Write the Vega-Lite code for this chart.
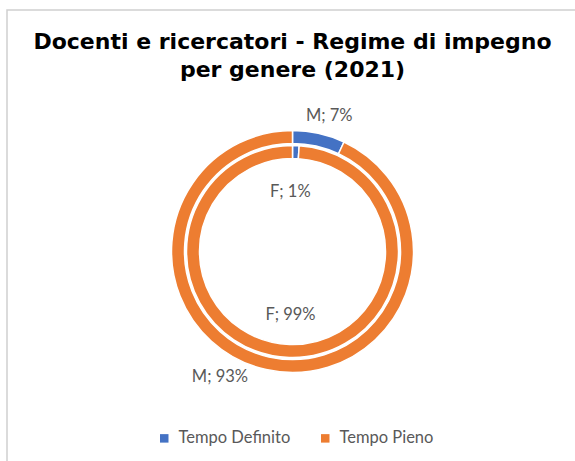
{
  "$schema": "https://vega.github.io/schema/vega-lite/v6.json",
  "width": 571,
  "height": 483,
  "autosize": {"type": "none"},
  "padding": {"left": 7, "top": 10, "right": 0, "bottom": 0},
  "background": "white",
  "view": {"stroke": "#d0d0d0", "strokeWidth": 1.5},
  "title": {
    "text": ["Docenti e ricercatori - Regime di impegno", "per genere (2021)"],
    "font": "DejaVu Sans",
    "fontSize": 22,
    "fontWeight": "bold",
    "color": "#000000",
    "lineHeight": 28,
    "anchor": "middle",
    "offset": -72
  },
  "data": {
    "values": [
      {"genere": "M", "regime": "Tempo Definito", "percentuale": 7, "etichetta": "M; 7%"},
      {"genere": "M", "regime": "Tempo Pieno", "percentuale": 93, "etichetta": "M; 93%"},
      {"genere": "F", "regime": "Tempo Definito", "percentuale": 1, "etichetta": "F; 1%"},
      {"genere": "F", "regime": "Tempo Pieno", "percentuale": 99, "etichetta": "F; 99%"}
    ]
  },
  "layer": [
    {
      "transform": [{"filter": "datum.genere === 'M'"}],
      "mark": {"type": "arc", "radius": 121, "radius2": 108, "stroke": "white", "strokeWidth": 1.5},
      "encoding": {
        "theta": {"field": "percentuale", "type": "quantitative", "stack": true, "scale": {"domain": [0, 100]}},
        "order": {"field": "regime"},
        "color": {
          "field": "regime",
          "type": "nominal",
          "scale": {"domain": ["Tempo Definito", "Tempo Pieno"], "range": ["#4472C4", "#ED7D31"]},
          "legend": {
            "title": null,
            "orient": "none",
            "direction": "horizontal",
            "legendX": 149,
            "legendY": 420,
            "symbolType": "square",
            "symbolSize": 72,
            "symbolStrokeWidth": 0,
            "labelFont": "Lato",
            "labelFontSize": 16.5,
            "labelColor": "#595959",
            "labelOffset": 6,
            "columnPadding": 26,
            "padding": 0
          }
        }
      }
    },
    {
      "transform": [{"filter": "datum.genere === 'F'"}],
      "mark": {"type": "arc", "radius": 106, "radius2": 93, "stroke": "white", "strokeWidth": 1.5},
      "encoding": {
        "theta": {"field": "percentuale", "type": "quantitative", "stack": true},
        "order": {"field": "regime"},
        "color": {"field": "regime", "type": "nominal"}
      }
    },
    {
      "transform": [{"filter": "datum.genere === 'M'"}],
      "mark": {"type": "text", "radius": 141, "dx": 6, "dy": 2, "font": "Lato", "fontSize": 16.5, "color": "#595959"},
      "encoding": {
        "theta": {"field": "percentuale", "type": "quantitative", "stack": true},
        "detail": {"field": "regime"},
        "order": {"field": "regime"},
        "text": {"condition": {"test": "datum.regime === 'Tempo Definito'", "field": "etichetta"}, "value": ""}
      }
    },
    {
      "transform": [{"filter": "datum.genere === 'M'"}],
      "mark": {"type": "text", "radius": 140, "dx": -42, "dy": -11, "font": "Lato", "fontSize": 16.5, "color": "#595959"},
      "encoding": {
        "theta": {"field": "percentuale", "type": "quantitative", "stack": true},
        "detail": {"field": "regime"},
        "order": {"field": "regime"},
        "text": {"condition": {"test": "datum.regime === 'Tempo Pieno'", "field": "etichetta"}, "value": ""}
      }
    },
    {
      "transform": [{"filter": "datum.genere === 'F'"}],
      "mark": {"type": "text", "radius": 60, "dx": -4, "dy": 0, "font": "Lato", "fontSize": 16.5, "color": "#595959"},
      "encoding": {
        "theta": {"field": "percentuale", "type": "quantitative", "stack": true},
        "detail": {"field": "regime"},
        "order": {"field": "regime"},
        "text": {"condition": {"test": "datum.regime === 'Tempo Definito'", "field": "etichetta"}, "value": ""}
      }
    },
    {
      "transform": [{"filter": "datum.genere === 'F'"}],
      "mark": {"type": "text", "radius": 64, "dx": 0, "dy": 0, "font": "Lato", "fontSize": 16.5, "color": "#595959"},
      "encoding": {
        "theta": {"field": "percentuale", "type": "quantitative", "stack": true},
        "detail": {"field": "regime"},
        "order": {"field": "regime"},
        "text": {"condition": {"test": "datum.regime === 'Tempo Pieno'", "field": "etichetta"}, "value": ""}
      }
    }
  ]
}
